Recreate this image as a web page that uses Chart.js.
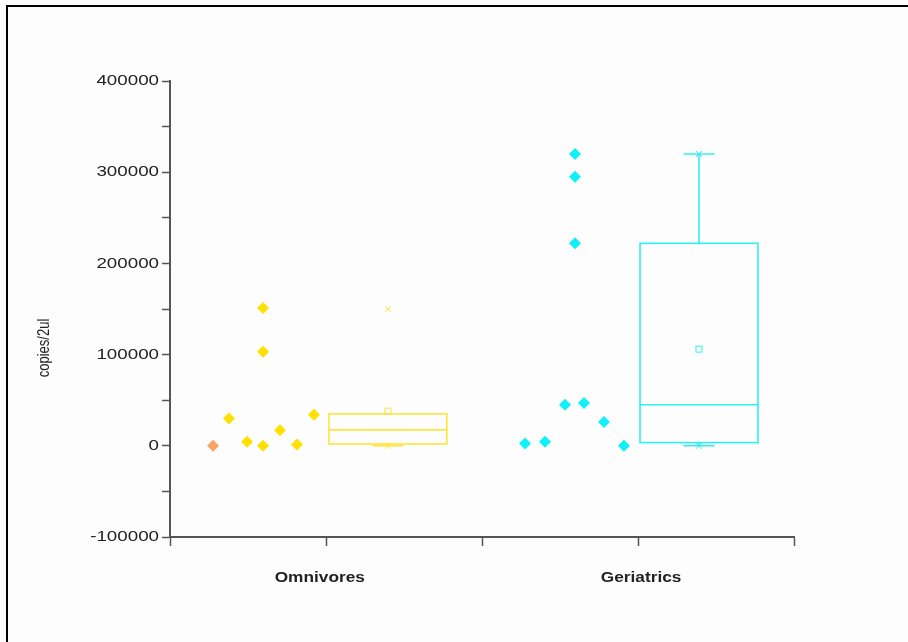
<!DOCTYPE html>
<html>
<head>
<meta charset="utf-8">
<script src="https://cdn.jsdelivr.net/npm/chart.js@4"></script>
<style>
  html, body { margin: 0; padding: 0; background: #fdfdfd; overflow: hidden; }
  .frame { position: absolute; left: 6px; top: 5px; width: 920px; height: 700px;
    border-top: 2px solid #000; border-left: 2px solid #000; }
  #chart { position: absolute; left: 0; top: 0; }
</style>
</head>
<body>
<div class="frame"></div>
<canvas id="chart" width="908" height="642"></canvas>
<script>
// group labels sit roughly under x = 1 and x = 3
const categoryLabels = ['Omnivores', 'Geriatrics']
const categoryPositions = [0.96, 3.02]

const omnivoresX = [0.276, 0.378, 0.494, 0.596, 0.596, 0.596, 0.705, 0.814, 0.923]
const omnivoresY = [0, 30000, 4500, 0, 103000, 151000, 17000, 1500, 34000]

const geriatricsX = [2.276, 2.404, 2.532, 2.596, 2.596, 2.596, 2.654, 2.782, 2.91]
const geriatricsY = [2500, 4500, 45000, 222000, 295000, 320000, 47000, 26000, 0]

// box plot stats, one entry per group
const boxCenters = [1.397, 3.391]
const boxQ1 = [2000, 3500]
const boxMedian = [17500, 45000]
const boxQ3 = [35000, 222000]
const boxMean = [38000, 106000]
const whiskerLow = [0, 0]
const whiskerHigh = [null, 320000]
const maxMarker = [150000, 320000]
const minMarker = [0, 0]

const yTicks = [-100000, 0, 100000, 200000, 300000, 400000]

const boxColors = ['#ffe43c', '#2ef0f2']

const toPoints = (xs, ys) => xs.map((x, i) => ({ x, y: ys[i] }))

const boxPlot = {
  id: 'boxPlot',
  afterDatasetsDraw(chart) {
    const { ctx, scales: { x, y } } = chart
    const half = 0.378
    const cap = 0.1
    ctx.save()
    ctx.lineWidth = 1.6
    boxCenters.forEach((c, i) => {
      ctx.strokeStyle = boxColors[i]
      const xl = x.getPixelForValue(c - half)
      const xr = x.getPixelForValue(c + half)
      const xc = x.getPixelForValue(c)
      const cl = x.getPixelForValue(c - cap)
      const cr = x.getPixelForValue(c + cap)
      const q1 = y.getPixelForValue(boxQ1[i])
      const q3 = y.getPixelForValue(boxQ3[i])
      const med = y.getPixelForValue(boxMedian[i])

      ctx.strokeRect(xl, q3, xr - xl, q1 - q3)
      ctx.beginPath()
      ctx.moveTo(xl, med); ctx.lineTo(xr, med)
      ctx.stroke()

      const lo = y.getPixelForValue(whiskerLow[i])
      ctx.beginPath()
      ctx.moveTo(xc, q1); ctx.lineTo(xc, lo)
      ctx.moveTo(cl, lo); ctx.lineTo(cr, lo)
      ctx.stroke()

      if (whiskerHigh[i] !== null) {
        const hi = y.getPixelForValue(whiskerHigh[i])
        ctx.beginPath()
        ctx.moveTo(xc, q3); ctx.lineTo(xc, hi)
        ctx.moveTo(cl, hi); ctx.lineTo(cr, hi)
        ctx.stroke()
      }

      // mean square
      ctx.lineWidth = 1
      const my = y.getPixelForValue(boxMean[i])
      ctx.strokeRect(xc - 3, my - 3, 6, 6)

      // max / min crosses
      ;[maxMarker[i], minMarker[i]].forEach(v => {
        const py = y.getPixelForValue(v)
        ctx.beginPath()
        ctx.moveTo(xc - 3, py - 3); ctx.lineTo(xc + 3, py + 3)
        ctx.moveTo(xc + 3, py - 3); ctx.lineTo(xc - 3, py + 3)
        ctx.stroke()
      })
      ctx.lineWidth = 1.6
    })
    ctx.restore()
  }
}

// the original export has its text a bit stretched sideways, so labels are drawn here
const axisText = {
  id: 'axisText',
  afterDraw(chart) {
    const { ctx, scales: { x, y } } = chart
    ctx.save()
    ctx.fillStyle = '#222'
    ctx.textBaseline = 'middle'

    ctx.font = '15px Arial'
    ctx.textAlign = 'right'
    yTicks.forEach(v => {
      const py = y.getPixelForValue(v)
      ctx.save()
      ctx.translate(159, py)
      ctx.scale(1.25, 1)
      ctx.fillText(String(v), 0, 0)
      ctx.restore()
    })

    ctx.font = 'bold 15px Arial'
    ctx.textAlign = 'center'
    categoryLabels.forEach((label, i) => {
      const px = x.getPixelForValue(categoryPositions[i])
      ctx.save()
      ctx.translate(px, 578)
      ctx.scale(1.15, 1)
      ctx.fillText(label, 0, 0)
      ctx.restore()
    })

    ctx.translate(45, 348)
    ctx.scale(1.2, 1)
    ctx.rotate(-Math.PI / 2)
    ctx.font = '13px Arial'
    ctx.fillText('copies/2ul', 0, 0)
    ctx.restore()
  }
}

const ctx = document.getElementById('chart')

const chart = new Chart(ctx, {
  type: 'scatter',
  data: {
    datasets: [{
      label: 'Omnivores',
      data: toPoints(omnivoresX, omnivoresY),
      pointStyle: 'rectRot',
      pointRadius: 6,
      pointBorderWidth: 0,
      backgroundColor: omnivoresX.map((v, i) => i === 0 ? '#f8a562' : '#ffe000'),
    }, {
      label: 'Geriatrics',
      data: toPoints(geriatricsX, geriatricsY),
      pointStyle: 'rectRot',
      pointRadius: 6,
      pointBorderWidth: 0,
      backgroundColor: '#0ff0f8',
    }]
  },
  options: {
    responsive: false,
    animation: false,
    layout: { padding: { top: 81, right: 114, left: 0, bottom: 0 } },
    plugins: {
      legend: { display: false },
      tooltip: { enabled: false }
    },
    scales: {
      x: {
        type: 'linear',
        min: 0,
        max: 4,
        afterFit: (scale) => { scale.height = 105 },
        afterBuildTicks: (scale) => { scale.ticks = [0, 1, 2, 3, 4].map(v => ({ value: v })) },
        border: { color: '#555', width: 2 },
        grid: { drawOnChartArea: false, tickLength: 9, color: '#555', tickWidth: 1.5 },
        ticks: { callback: () => '' }
      },
      y: {
        min: -100000,
        max: 400000,
        afterFit: (scale) => { scale.width = 170 },
        afterBuildTicks: (scale) => {
          const t = []
          for (let v = yTicks[0]; v <= yTicks[yTicks.length - 1]; v += 50000) t.push({ value: v })
          scale.ticks = t
        },
        border: { color: '#555', width: 2 },
        grid: { drawOnChartArea: false, tickLength: 8, color: '#555', tickWidth: 1.5 },
        ticks: { callback: () => '' }
      }
    }
  },
  plugins: [boxPlot, axisText]
})
</script>
</body>
</html>
